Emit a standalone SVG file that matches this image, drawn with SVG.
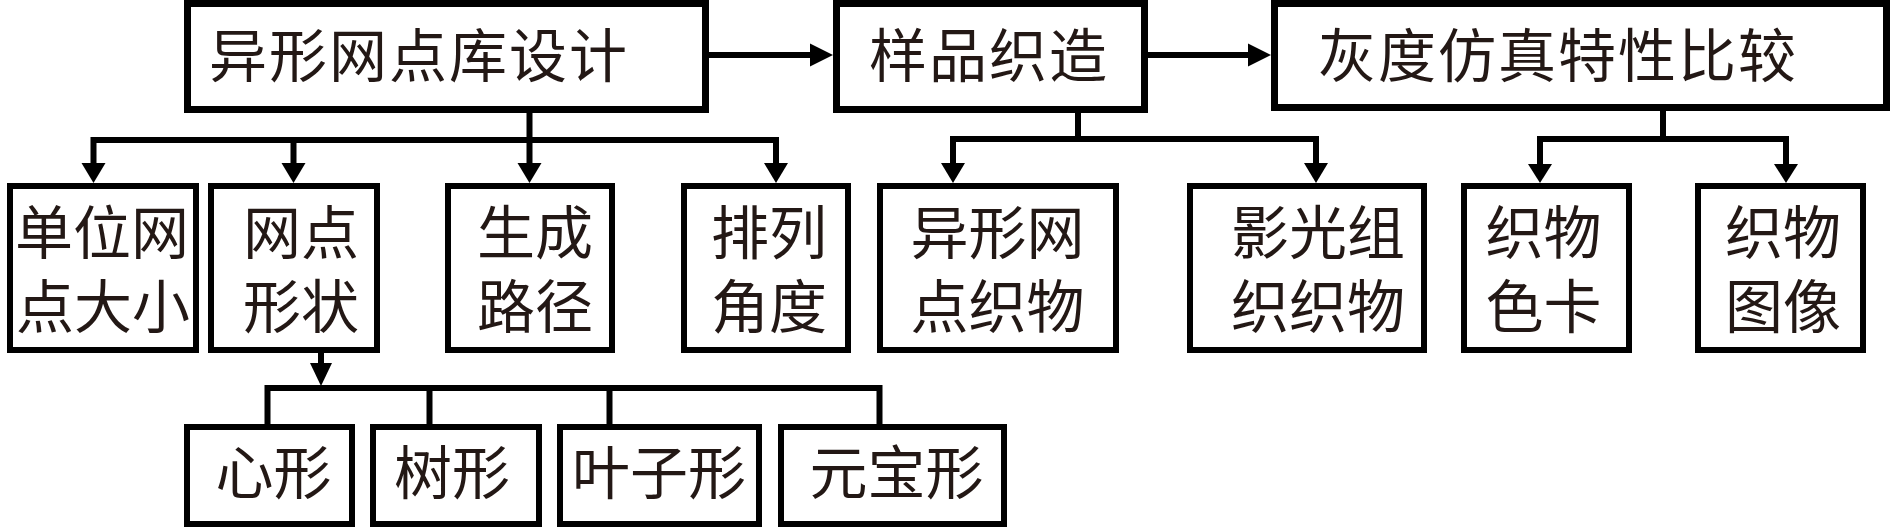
<svg xmlns="http://www.w3.org/2000/svg" width="1890" height="527" viewBox="0 0 1890 527">
<style>
.box{fill:#fff;stroke:#000;stroke-width:6}
.top{stroke-width:7}
.t{font-family:"Noto Sans CJK SC","Noto Sans CJK JP",sans-serif;font-size:58px;fill:#231815;text-anchor:middle}
.c{fill:none;stroke:#000;stroke-width:6;stroke-linejoin:miter;stroke-linecap:butt}
.ah{fill:#000}
</style>
<rect width="1890" height="527" fill="#fff"/>
<g id="connectors">
  <path class="c" d="M709,55 H812"/>
  <polygon class="ah" points="833,55 810,43.5 810,66.5"/>
  <path class="c" d="M1148,55 H1250"/>
  <polygon class="ah" points="1271,55 1248,43.5 1248,66.5"/>
  <path class="c" d="M529.5,113 V164 M93.5,164 V140 H776 V164 M293.5,140 V164"/>
  <polygon class="ah" points="93.5,183 81.5,163 105.5,163"/>
  <polygon class="ah" points="293.5,183 281.5,163 305.5,163"/>
  <polygon class="ah" points="529.5,183 517.5,163 541.5,163"/>
  <polygon class="ah" points="776,183 764,163 788,163"/>
  <path class="c" d="M1078,113 V139 M953,164 V139 H1316 V164"/>
  <polygon class="ah" points="953,183 941,163 965,163"/>
  <polygon class="ah" points="1316,183 1304,163 1328,163"/>
  <path class="c" d="M1663,111 V139 M1540,165 V139 H1786 V165"/>
  <polygon class="ah" points="1540,183 1528,164 1552,164"/>
  <polygon class="ah" points="1786,183 1774,164 1798,164"/>
  <path class="c" d="M321,353 V364"/>
  <polygon class="ah" points="321,386 310,363 332,363"/>
  <path class="c" d="M267.5,424 V388 H879.5 V424 M429.5,388 V424 M609.5,388 V424"/>
</g>
<g id="n1"><rect class="box top" x="187.5" y="3.5" width="518" height="106"/><text class="t" x="419" y="77" letter-spacing="2">异形网点库设计</text></g>
<g id="n2"><rect class="box top" x="836.5" y="3.5" width="308" height="106"/><text class="t" x="989" y="77" letter-spacing="2">样品织造</text></g>
<g id="n3"><rect class="box top" x="1274.5" y="3.5" width="612" height="104"/><text class="t" x="1558" y="77" letter-spacing="2">灰度仿真特性比较</text></g>
<g id="n4"><rect class="box" x="10" y="186" width="186" height="164"/><text class="t" x="102" y="254">单位网</text><text class="t" x="103" y="328">点大小</text></g>
<g id="n5"><rect class="box" x="211" y="186" width="166" height="164"/><text class="t" x="301" y="254">网点</text><text class="t" x="301" y="328">形状</text></g>
<g id="n6"><rect class="box" x="448" y="186" width="164" height="164"/><text class="t" x="535" y="254">生成</text><text class="t" x="535" y="328">路径</text></g>
<g id="n7"><rect class="box" x="684" y="186" width="164" height="164"/><text class="t" x="769" y="254">排列</text><text class="t" x="769" y="328">角度</text></g>
<g id="n8"><rect class="box" x="880" y="186" width="236" height="164"/><text class="t" x="997.5" y="254">异形网</text><text class="t" x="997.5" y="328">点织物</text></g>
<g id="n9"><rect class="box" x="1190" y="186" width="234" height="164"/><text class="t" x="1318" y="254">影光组</text><text class="t" x="1318" y="328">织织物</text></g>
<g id="n10"><rect class="box" x="1464" y="186" width="165" height="164"/><text class="t" x="1543.5" y="254">织物</text><text class="t" x="1543.5" y="328">色卡</text></g>
<g id="n11"><rect class="box" x="1698" y="186" width="165" height="164"/><text class="t" x="1783" y="254">织物</text><text class="t" x="1783" y="328">图像</text></g>
<g id="n12"><rect class="box" x="187" y="427" width="165" height="97"/><text class="t" x="273.5" y="494">心形</text></g>
<g id="n13"><rect class="box" x="373" y="427" width="166" height="97"/><text class="t" x="452" y="494">树形</text></g>
<g id="n14"><rect class="box" x="560" y="427" width="199" height="97"/><text class="t" x="659" y="494">叶子形</text></g>
<g id="n15"><rect class="box" x="781" y="427" width="223" height="97"/><text class="t" x="896.5" y="494">元宝形</text></g>
</svg>
